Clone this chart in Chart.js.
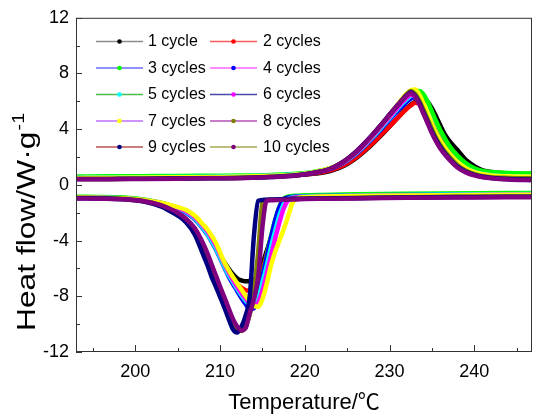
<!DOCTYPE html>
<html>
<head>
<meta charset="utf-8">
<script src="https://cdn.jsdelivr.net/npm/chart.js@4"></script>
<style>
  html, body { margin: 0; padding: 0; background: #fff; overflow: hidden; }
  canvas { display: block; }
</style>
</head>
<body>
<canvas id="dsc" width="533" height="418"></canvas>
<script>
const cycleNames = ["1 cycle", "2 cycles", "3 cycles", "4 cycles", "5 cycles",
  "6 cycles", "7 cycles", "8 cycles", "9 cycles", "10 cycles"];

// temperature grids (°C) for the heating and cooling scans
const tHeat = [193, 197, 201, 205, 209, 213, 216, 219, 221, 223, 224, 225, 226, 227, 228, 229, 230, 231,
  231.5, 232, 232.5, 233, 233.5, 234, 234.5, 235, 235.5, 236, 236.5, 237, 238, 239, 240, 241, 242, 244, 246.8];
const tCool = [193, 196, 199, 201, 203, 204, 205, 206, 207, 208, 208.5, 209, 209.5, 210, 210.5, 211, 211.5,
  212, 212.5, 213, 213.5, 214, 214.5, 215, 215.5, 216, 216.5, 217, 217.5, 218, 218.5, 219, 220, 222, 226,
  232, 240, 246.8];

// heat flow (W/g) on heating, one array per cycle
const heat1 = [0.5, 0.52, 0.54, 0.56, 0.58, 0.6, 0.63, 0.7, 0.8, 1.0, 1.2, 1.5, 1.9, 2.4, 2.95, 3.55, 4.2, 4.85,
  5.2, 5.5, 5.75, 5.95, 6.1, 6.15, 5.95, 5.5, 4.9, 4.25, 3.65, 3.2, 2.5, 1.8, 1.35, 1.05, 0.92, 0.82, 0.78];
const heat2 = [0.48, 0.5, 0.52, 0.54, 0.56, 0.58, 0.62, 0.7, 0.82, 1.05, 1.25, 1.55, 1.95, 2.45, 3.0, 3.6, 4.2, 4.85,
  5.15, 5.45, 5.7, 5.9, 5.85, 5.55, 5.0, 4.4, 3.8, 3.25, 2.8, 2.4, 1.75, 1.3, 1.0, 0.85, 0.76, 0.7, 0.68];
const heat3 = [0.6, 0.62, 0.63, 0.64, 0.66, 0.68, 0.72, 0.8, 0.93, 1.2, 1.45, 1.8, 2.25, 2.8, 3.4, 4.05, 4.75, 5.45,
  5.8, 6.15, 6.45, 6.68, 6.75, 6.5, 5.95, 5.25, 4.55, 3.9, 3.35, 2.85, 2.1, 1.55, 1.2, 1.0, 0.92, 0.85, 0.82];
const heat4 = [0.5, 0.52, 0.53, 0.55, 0.57, 0.6, 0.65, 0.74, 0.88, 1.15, 1.4, 1.75, 2.2, 2.75, 3.35, 4.0, 4.7, 5.35,
  5.65, 5.95, 6.2, 6.3, 6.05, 5.55, 4.9, 4.2, 3.6, 3.05, 2.6, 2.2, 1.6, 1.15, 0.9, 0.75, 0.66, 0.6, 0.57];
const heat5 = [0.52, 0.54, 0.55, 0.57, 0.59, 0.62, 0.67, 0.76, 0.9, 1.18, 1.43, 1.78, 2.25, 2.8, 3.42, 4.1, 4.8, 5.5,
  5.85, 6.15, 6.4, 6.5, 6.25, 5.7, 5.05, 4.35, 3.7, 3.15, 2.7, 2.3, 1.65, 1.2, 0.93, 0.78, 0.7, 0.64, 0.62];
const heat6 = [0.45, 0.47, 0.48, 0.5, 0.52, 0.55, 0.6, 0.7, 0.86, 1.15, 1.42, 1.8, 2.28, 2.85, 3.5, 4.2, 4.9, 5.6,
  5.95, 6.25, 6.45, 6.35, 5.95, 5.35, 4.65, 3.95, 3.35, 2.85, 2.4, 2.05, 1.45, 1.05, 0.8, 0.65, 0.56, 0.5, 0.47];
const heat7 = [0.5, 0.52, 0.53, 0.55, 0.57, 0.6, 0.65, 0.75, 0.9, 1.2, 1.47, 1.85, 2.35, 2.93, 3.58, 4.3, 5.05, 5.8,
  6.2, 6.55, 6.8, 6.85, 6.5, 5.85, 5.1, 4.35, 3.7, 3.15, 2.7, 2.3, 1.65, 1.2, 0.92, 0.76, 0.68, 0.62, 0.6];
const heat8 = [0.42, 0.43, 0.45, 0.47, 0.49, 0.52, 0.58, 0.69, 0.86, 1.16, 1.45, 1.85, 2.35, 2.95, 3.6, 4.3, 5.05, 5.8,
  6.15, 6.5, 6.75, 6.55, 6.05, 5.4, 4.7, 4.0, 3.35, 2.85, 2.4, 2.05, 1.42, 1.02, 0.78, 0.63, 0.55, 0.5, 0.48];
const heat9 = [0.42, 0.43, 0.44, 0.46, 0.48, 0.51, 0.57, 0.69, 0.86, 1.16, 1.46, 1.86, 2.36, 2.96, 3.62, 4.32, 5.05, 5.75,
  6.1, 6.42, 6.65, 6.4, 5.9, 5.2, 4.5, 3.8, 3.2, 2.7, 2.28, 1.92, 1.32, 0.95, 0.72, 0.58, 0.5, 0.42, 0.38];
const heat10 = [0.4, 0.41, 0.43, 0.45, 0.47, 0.5, 0.56, 0.68, 0.85, 1.15, 1.45, 1.85, 2.35, 2.95, 3.6, 4.3, 5.05, 5.75,
  6.1, 6.4, 6.6, 6.35, 5.8, 5.1, 4.4, 3.7, 3.1, 2.6, 2.2, 1.85, 1.25, 0.9, 0.68, 0.55, 0.47, 0.38, 0.33];

// heat flow (W/g) on cooling, one array per cycle
const cool1 = [-0.88, -0.9, -0.96, -1.08, -1.3, -1.47, -1.68, -1.95, -2.38, -3.05, -3.45, -3.92, -4.42, -5.0, -5.55,
  -6.0, -6.4, -6.7, -6.85, -6.92, -6.9, -6.8, -6.5, -5.7, -4.75, -3.8, -2.95, -2.25, -1.55, -1.05, -0.9, -0.86, -0.83,
  -0.8, -0.76, -0.72, -0.68, -0.66];
const cool2 = [-0.9, -0.92, -0.98, -1.1, -1.32, -1.49, -1.7, -1.97, -2.4, -3.08, -3.48, -3.95, -4.47, -5.08, -5.7,
  -6.25, -6.72, -7.1, -7.38, -7.55, -7.6, -7.45, -7.0, -6.1, -5.0, -3.9, -2.9, -2.05, -1.35, -0.98, -0.88, -0.85, -0.82,
  -0.79, -0.75, -0.71, -0.68, -0.66];
const cool3 = [-0.85, -0.87, -0.93, -1.05, -1.28, -1.45, -1.66, -1.92, -2.35, -3.05, -3.45, -3.95, -4.5, -5.15, -5.8,
  -6.4, -6.95, -7.45, -7.95, -8.4, -8.75, -8.6, -7.8, -6.5, -5.1, -3.7, -2.5, -1.55, -1.0, -0.85, -0.8, -0.78, -0.75,
  -0.72, -0.68, -0.64, -0.6, -0.58];
const cool4 = [-0.9, -0.92, -0.98, -1.1, -1.33, -1.5, -1.72, -2.0, -2.45, -3.15, -3.57, -4.07, -4.62, -5.27, -5.92,
  -6.55, -7.1, -7.6, -8.1, -8.55, -8.9, -8.85, -8.0, -6.6, -5.2, -3.8, -2.55, -1.6, -1.05, -0.9, -0.86, -0.84, -0.82,
  -0.79, -0.76, -0.72, -0.69, -0.67];
const cool5 = [-0.9, -0.92, -0.98, -1.1, -1.32, -1.5, -1.7, -1.95, -2.4, -3.1, -3.5, -4.0, -4.55, -5.2, -5.85,
  -6.45, -6.95, -7.45, -7.9, -8.3, -8.6, -8.65, -8.1, -7.0, -5.8, -4.5, -3.3, -2.2, -1.4, -1.0, -0.9, -0.86, -0.83,
  -0.8, -0.77, -0.72, -0.68, -0.66];
const cool6 = [-0.92, -0.94, -1.0, -1.1, -1.3, -1.46, -1.65, -1.9, -2.3, -2.95, -3.33, -3.8, -4.33, -4.98, -5.65,
  -6.25, -6.8, -7.3, -7.75, -8.15, -8.5, -8.7, -8.45, -7.6, -6.4, -5.1, -3.85, -2.7, -1.7, -1.1, -0.95, -0.9, -0.87,
  -0.84, -0.8, -0.76, -0.72, -0.7];
const cool7 = [-0.9, -0.92, -0.98, -1.08, -1.28, -1.42, -1.6, -1.8, -2.2, -2.85, -3.2, -3.65, -4.15, -4.85, -5.55,
  -6.1, -6.6, -7.05, -7.5, -7.95, -8.35, -8.7, -8.75, -8.2, -7.1, -5.8, -4.8, -4.0, -3.2, -2.3, -1.35, -1.0, -0.88,
  -0.84, -0.8, -0.76, -0.72, -0.7];
const cool8 = [-0.92, -0.94, -1.02, -1.15, -1.45, -1.72, -2.05, -2.5, -3.2, -4.4, -5.1, -5.9, -6.7, -7.45, -8.2,
  -9.0, -9.75, -10.3, -10.5, -10.1, -9.3, -7.6, -4.8, -1.3, -1.08, -1.06, -1.05, -1.04, -1.03, -1.02, -1.01, -1.0,
  -0.98, -0.96, -0.93, -0.88, -0.85, -0.83];
const cool9 = [-0.95, -0.97, -1.05, -1.2, -1.55, -1.85, -2.2, -2.7, -3.55, -5.0, -5.75, -6.6, -7.3, -8.05, -8.8,
  -9.6, -10.35, -10.6, -10.2, -9.4, -8.0, -3.6, -1.15, -1.08, -1.06, -1.05, -1.04, -1.03, -1.02, -1.01, -1.0, -1.0,
  -0.99, -0.97, -0.95, -0.9, -0.87, -0.85];
const cool10 = [-0.97, -0.99, -1.05, -1.17, -1.45, -1.7, -2.0, -2.45, -3.1, -4.2, -4.9, -5.7, -6.5, -7.3, -8.05,
  -8.85, -9.6, -10.15, -10.45, -10.3, -9.2, -8.2, -6.6, -3.0, -1.12, -1.1, -1.09, -1.08, -1.07, -1.06, -1.05, -1.04,
  -1.02, -1.0, -0.97, -0.93, -0.9, -0.88];

const heatSeries = [heat1, heat2, heat3, heat4, heat5, heat6, heat7, heat8, heat9, heat10];
const coolSeries = [cool1, cool2, cool3, cool4, cool5, cool6, cool7, cool8, cool9, cool10];

// line colour and symbol colour of every cycle
const lineColors = ["#8c8c8c", "#ff5a5a", "#6a6aff", "#ff66ff", "#4cbb4c",
  "#4a4aa8", "#c070ff", "#b450b4", "#b85050", "#a8a850"];
const symbolColors = ["#000000", "#ff0000", "#00ff00", "#0000ff", "#00ffff",
  "#ff00ff", "#ffff00", "#808000", "#000080", "#800080"];

const FONT = '"Liberation Sans", Arial, "Noto Sans CJK SC", sans-serif';

function toPoints(xs, ys) {
  return xs.map((x, k) => ({ x: x, y: ys[k] }));
}

const datasets = [];
cycleNames.forEach((name, i) => {
  [heatSeries[i], coolSeries[i]].forEach((ys, j) => {
    datasets.push({
      label: name,
      data: toPoints(j === 0 ? tHeat : tCool, ys),
      borderColor: symbolColors[i],
      backgroundColor: symbolColors[i],
      borderWidth: 4.5,
      pointRadius: 0,
      cubicInterpolationMode: "monotone",
      order: 9 - i,
    });
  });
});

// frame, inward ticks, axis titles and the two-column legend
const decorPlugin = {
  id: "decorPlugin",
  afterDraw(chart) {
    const ctx = chart.ctx;
    const area = chart.chartArea;
    const xs = chart.scales.x;
    const ys = chart.scales.y;
    ctx.save();
    ctx.strokeStyle = "#333";
    ctx.lineWidth = 1;
    ctx.strokeRect(area.left + 0.5, area.top + 0.5, area.right - area.left - 1, area.bottom - area.top - 1);

    ctx.beginPath();
    for (let v = 195; v <= 245; v += 5) {
      const px = Math.round(xs.getPixelForValue(v)) + 0.5;
      const len = v % 10 === 0 ? 7 : 4;
      ctx.moveTo(px, area.bottom);
      ctx.lineTo(px, area.bottom - len);
    }
    for (let v = -12; v <= 12; v += 2) {
      const py = Math.round(ys.getPixelForValue(v)) + 0.5;
      const len = v % 4 === 0 ? 6 : 4;
      ctx.moveTo(area.left, py);
      ctx.lineTo(area.left + len, py);
    }
    ctx.stroke();

    // axis titles
    ctx.fillStyle = "#000";
    ctx.font = "22px " + FONT;
    ctx.textAlign = "center";
    ctx.textBaseline = "middle";
    ctx.fillText("Temperature/\u2103", (area.left + area.right) / 2, 403);

    ctx.save();
    ctx.translate(26, 222);
    ctx.rotate(-Math.PI / 2);
    const main = "Heat flow/W\u00b7g";
    const sup = "-1";
    ctx.font = "26px " + FONT;
    const wMain = ctx.measureText(main).width;
    ctx.font = "16px " + FONT;
    const wSup = ctx.measureText(sup).width;
    const total = wMain + wSup + 1;
    ctx.scale(218 / total, 1);
    ctx.textAlign = "left";
    ctx.textBaseline = "alphabetic";
    ctx.font = "26px " + FONT;
    ctx.fillText(main, -total / 2, 9);
    ctx.font = "16px " + FONT;
    ctx.fillText(sup, -total / 2 + wMain + 1, -2);
    ctx.restore();

    // legend
    const rows = [41, 67.5, 94, 120.5, 146.5];
    const cols = [{ x0: 96, x1: 143, tx: 148 }, { x0: 210, x1: 257, tx: 263 }];
    ctx.font = "16px " + FONT;
    ctx.textAlign = "left";
    ctx.textBaseline = "middle";
    cycleNames.forEach((name, i) => {
      const c = cols[i % 2];
      const y = rows[Math.floor(i / 2)];
      ctx.strokeStyle = lineColors[i];
      ctx.lineWidth = 1.3;
      ctx.beginPath();
      ctx.moveTo(c.x0, y + 0.5);
      ctx.lineTo(c.x1, y + 0.5);
      ctx.stroke();
      ctx.fillStyle = symbolColors[i];
      ctx.beginPath();
      ctx.arc((c.x0 + c.x1) / 2, y + 0.5, 2.3, 0, Math.PI * 2);
      ctx.fill();
      ctx.fillStyle = "#000";
      ctx.fillText(name, c.tx, y + 1);
    });
    ctx.restore();
  },
};

new Chart(document.getElementById("dsc"), {
  type: "line",
  data: { datasets: datasets },
  options: {
    responsive: false,
    animation: false,
    devicePixelRatio: 1,
    layout: { padding: { top: 16, right: 1, left: 0, bottom: 0 } },
    plugins: {
      legend: { display: false },
      tooltip: { enabled: false },
    },
    scales: {
      x: {
        type: "linear",
        min: 193,
        max: 246.8,
        afterFit(scale) { scale.height = 66; },
        afterBuildTicks(scale) {
          scale.ticks = [200, 210, 220, 230, 240].map((v) => ({ value: v }));
        },
        grid: { display: false, drawTicks: false },
        border: { display: false },
        ticks: { color: "#000", padding: 9, maxRotation: 0, font: { family: FONT, size: 18 } },
      },
      y: {
        min: -12,
        max: 12,
        afterFit(scale) { scale.width = 76; },
        grid: { display: false, drawTicks: false },
        border: { display: false },
        ticks: { stepSize: 4, color: "#000", padding: 7, font: { family: FONT, size: 18 } },
      },
    },
  },
  plugins: [decorPlugin],
});
</script>
</body>
</html>
